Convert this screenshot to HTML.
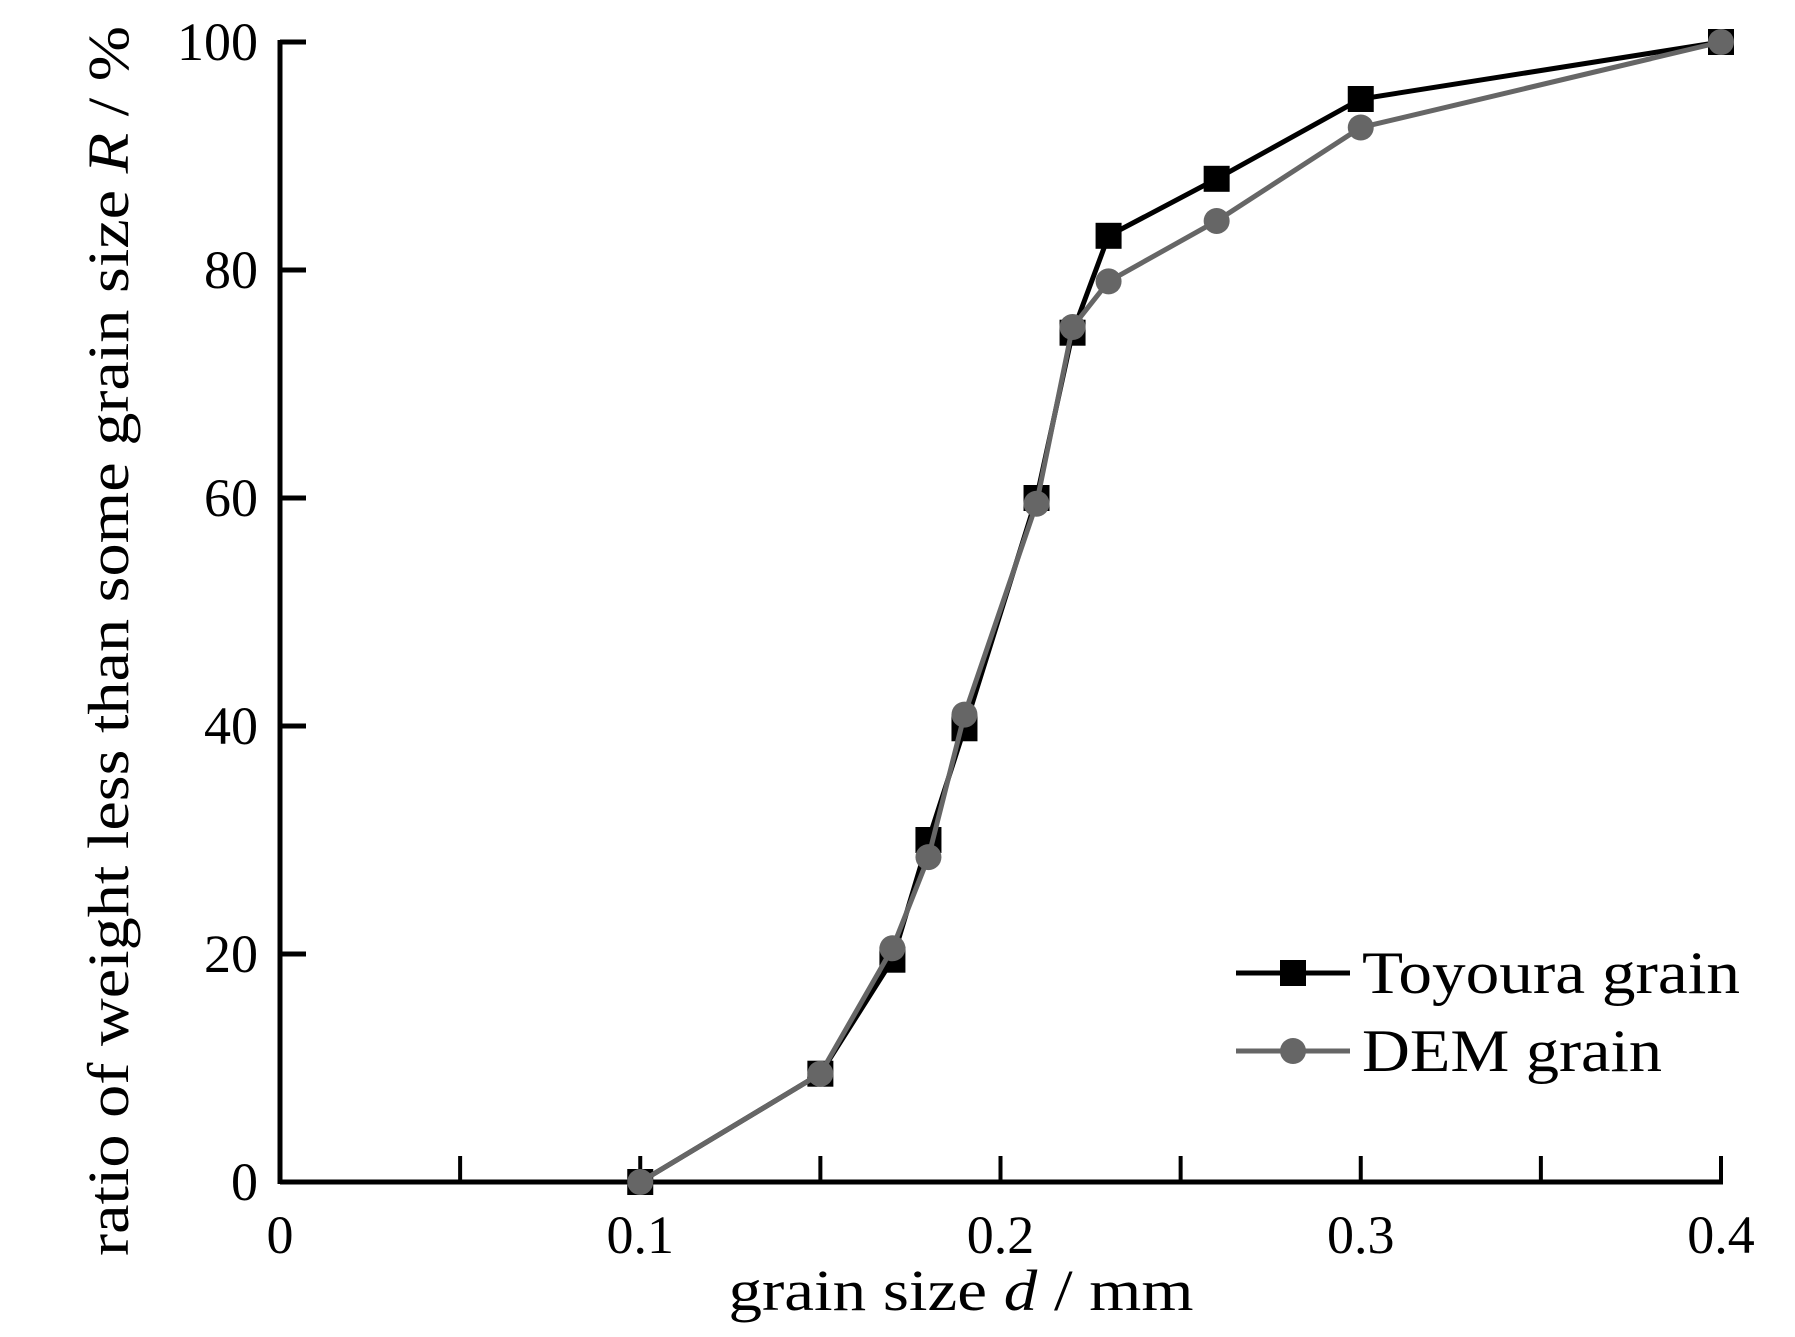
<!DOCTYPE html>
<html><head><meta charset="utf-8"><style>
html,body{margin:0;padding:0;background:#fff;}
svg{display:block;font-family:"Liberation Serif",serif;}
</style></head><body>
<svg id="chart" width="1795" height="1337" viewBox="0 0 1795 1337" xmlns="http://www.w3.org/2000/svg">
<g id="axes"></g>
<g id="series"></g>
<g id="legend">
  <line x1="1236" y1="973" x2="1350" y2="973" stroke="#000" stroke-width="5"/>
  <rect x="1280" y="960" width="26" height="26" fill="#000"/>
  <text x="1362" y="993" font-size="60" textLength="378" lengthAdjust="spacingAndGlyphs">Toyoura grain</text>
  <line x1="1236" y1="1051" x2="1350" y2="1051" stroke="#666" stroke-width="5"/>
  <circle cx="1293" cy="1051" r="13" fill="#666"/>
  <text x="1362" y="1071" font-size="60" textLength="300" lengthAdjust="spacingAndGlyphs">DEM grain</text>
</g>
<text x="961" y="1310" font-size="58" text-anchor="middle" textLength="465" lengthAdjust="spacingAndGlyphs">grain size <tspan font-style="italic">d</tspan> / mm</text>
<text transform="translate(128,641) rotate(-90)" font-size="58" text-anchor="middle" textLength="1230" lengthAdjust="spacingAndGlyphs">ratio of weight less than some grain size <tspan font-style="italic">R</tspan> / %</text>
</svg>
<script>
const xTicks=[0,0.05,0.1,0.15,0.2,0.25,0.3,0.35,0.4];
const xTickLabels=["0","","0.1","","0.2","","0.3","","0.4"];
const yTicks=[0,20,40,60,80,100];
const yTickLabels=["0","20","40","60","80","100"];
const grainSize=[0.1,0.15,0.17,0.18,0.19,0.21,0.22,0.23,0.26,0.3,0.4];
const toyoura=[0,9.5,19.5,30,39.8,60,74.5,83,88,95,100];
const dem=[0,9.5,20.5,28.5,41,59.5,75,79,84.3,92.5,100];

const NS="http://www.w3.org/2000/svg";
const X0=280,X1=1721,Y0=1182,Y1=42;
function sx(v){return X0+(v-0)/(0.4-0)*(X1-X0);}
function sy(v){return Y0-(v-0)/(100-0)*(Y0-Y1);}
function mk(tag,attrs,parent){const e=document.createElementNS(NS,tag);for(const k in attrs)e.setAttribute(k,attrs[k]);parent.appendChild(e);return e;}
const axes=document.getElementById('axes');
const series=document.getElementById('series');

let l=mk('line',{x1:X0,y1:Y0,x2:X1+2,y2:Y0,stroke:'#000','stroke-width':5},axes);


l=mk('line',{x1:X0,y1:Y0+2,x2:X0,y2:Y1-2,stroke:'#000','stroke-width':5},axes);



xTicks.forEach((v,i)=>{
  const t=mk('line',{x1:sx(v),y1:Y0,x2:sx(v),y2:Y0-26,stroke:'#000','stroke-width':4},axes);
  
  
  if(xTickLabels[i]){
    const tx=mk('text',{x:sx(v),y:1253,'font-size':54,'text-anchor':'middle'},axes);
    tx.textContent=xTickLabels[i];
    
    
  }
});
yTicks.forEach((v,i)=>{
  const t=mk('line',{x1:X0,y1:sy(v),x2:X0+26,y2:sy(v),stroke:'#000','stroke-width':5},axes);
  
  
  const tx=mk('text',{x:258,y:sy(v)+18,'font-size':54,'text-anchor':'end'},axes);
  tx.textContent=yTickLabels[i];
  
  
});

function pts(arr){return grainSize.map((g,i)=>sx(g)+','+sy(arr[i])).join(' ');}
let pl=mk('polyline',{points:pts(toyoura),fill:'none',stroke:'#000','stroke-width':5},series);


toyoura.forEach((v,i)=>{
  const r=mk('rect',{x:sx(grainSize[i])-13,y:sy(v)-13,width:26,height:26,fill:'#000'},series);
  
  
});
pl=mk('polyline',{points:pts(dem),fill:'none',stroke:'#666','stroke-width':5},series);


dem.forEach((v,i)=>{
  const c=mk('circle',{cx:sx(grainSize[i]),cy:sy(v),r:13,fill:'#666'},series);
  
  
});
</script>
</body></html>
